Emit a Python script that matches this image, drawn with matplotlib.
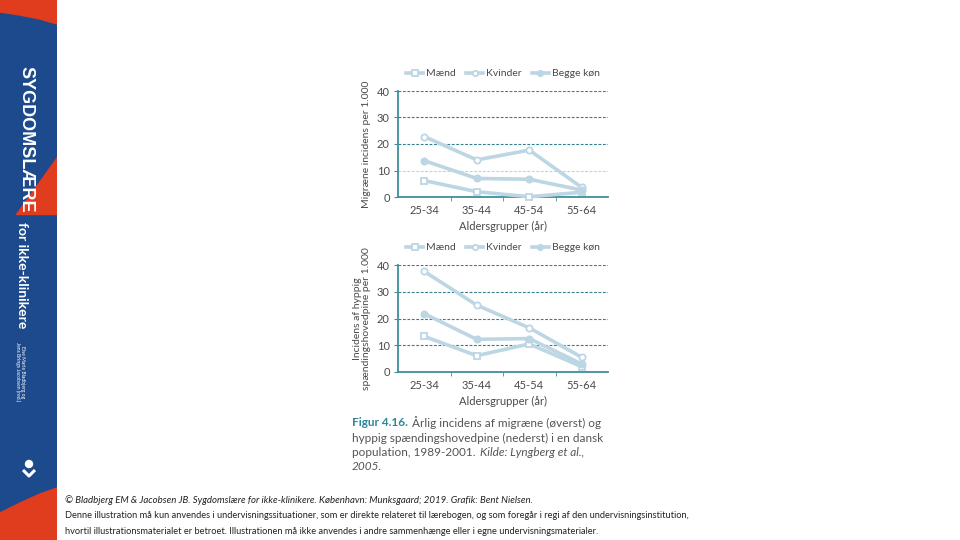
import matplotlib
matplotlib.use("Agg")
import matplotlib.pyplot as plt
from matplotlib.patches import Polygon, Circle

plt.rcParams['font.family'] = ['Lato', 'DejaVu Sans']

# data
ages = ["25-34", "35-44", "45-54", "55-64"]
series = ["Mænd", "Kvinder", "Begge køn"]

migr_maend = [6.2, 2.0, 0.1, 1.8]
migr_kvinder = [22.8, 14.0, 17.7, 3.6]
migr_begge = [13.7, 7.0, 6.7, 2.6]

spaend_maend = [13.3, 6.1, 10.5, 2.0]
spaend_kvinder = [37.6, 25.0, 16.5, 5.5]
spaend_begge = [21.8, 12.2, 12.5, 3.0]

line_col = "#bcd6e4"
axis_col = "#3f8e9c"
text_col = "#4a4a4a"

W, H = 960, 540
fig = plt.figure(figsize=(9.6, 5.4), dpi=100)
fig.patch.set_facecolor("white")


def px(x, y, w, h):
    return [x / W, 1 - (y + h) / H, w / W, h / H]


def draw_chart(ax, vals, ylabel, faint10=False):
    x = range(len(ages))
    styles = [("s", "white"), ("o", "white"), ("o", line_col)]
    for (m, fc), v, name in zip(styles, vals, series):
        ax.plot(x, v, color=line_col, lw=2.6, marker=m, ms=4.5,
                mfc=fc, mec=line_col, mew=1.3, label=name, clip_on=False,
                zorder=3)
    ax.set_xlim(-0.5, 3.5)
    ax.set_ylim(0, 40)
    ax.set_yticks([0, 10, 20, 30, 40])
    ax.set_xticks(list(x))
    ax.set_xticklabels(ages)
    ax.set_xticks([0.5, 1.5, 2.5], minor=True)
    ax.tick_params(axis="x", which="major", length=0, pad=6, labelsize=8,
                   labelcolor=text_col)
    ax.tick_params(axis="x", which="minor", length=3, color=axis_col,
                   direction="out")
    ax.tick_params(axis="y", length=3, color=axis_col, labelsize=8,
                   labelcolor=text_col, pad=3)
    for s in ["top", "right"]:
        ax.spines[s].set_visible(False)
    for s in ["left", "bottom"]:
        ax.spines[s].set_color(axis_col)
        ax.spines[s].set_linewidth(1.3)
    for yv in [10, 20, 30, 40]:
        c = "#b5d6dc" if (faint10 and yv == 10) else "#2f7f8e"
        ax.axhline(yv, color=c, lw=0.8, ls=(0, (2.5, 1.5)), zorder=1)
    ax.set_xlabel("Aldersgrupper (år)", fontsize=8, color=text_col, labelpad=3)
    ax.set_ylabel(ylabel, fontsize=7.5, color=text_col, labelpad=4,
                  linespacing=0.95)
    ax.legend(loc="lower center", bbox_to_anchor=(0.5, 1.03), ncol=3,
              frameon=False, fontsize=7.5, handlelength=1.6, columnspacing=1.0,
              handletextpad=0.3, labelcolor=text_col, markerscale=0.85)


ax1 = fig.add_axes(px(398, 91, 210, 106))
draw_chart(ax1, [migr_maend, migr_kvinder, migr_begge],
           "Migræne incidens per 1.000", faint10=True)

ax2 = fig.add_axes(px(398, 265, 210, 107))
draw_chart(ax2, [spaend_maend, spaend_kvinder, spaend_begge],
           "Incidens af hyppig\nspændingshovedpine per 1.000")

# caption
cap_x = 352 / W
t = fig.text(cap_x, 1 - 423 / H, "Figur 4.16.", fontsize=8.5, weight="bold",
             color="#2b8797", va="center")
fig.canvas.draw()
bb = t.get_window_extent()
fig.text(bb.x1 / W + 4 / W, 1 - 423 / H,
         "Årlig incidens af migræne (øverst) og", fontsize=8.5,
         color="#555555", va="center")
fig.text(cap_x, 1 - 438 / H, "hyppig spændingshovedpine (nederst) i en dansk",
         fontsize=8.5, color="#555555", va="center")
t3 = fig.text(cap_x, 1 - 452 / H, "population, 1989-2001. ", fontsize=8.5,
              color="#555555", va="center")
fig.canvas.draw()
bb3 = t3.get_window_extent()
fig.text(bb3.x1 / W + 2 / W, 1 - 452 / H, "Kilde: Lyngberg et al.,",
         fontsize=8.5, color="#555555", va="center", style="italic")
fig.text(cap_x, 1 - 466 / H, "2005.", fontsize=8.5, color="#555555",
         va="center", style="italic")

# footer
fig.text(65 / W, 1 - 500 / H,
         "© Bladbjerg EM & Jacobsen JB. Sygdomslære for ikke-klinikere. "
         "København: Munksgaard; 2019. Grafik: Bent Nielsen.",
         fontsize=6.9, style="italic", color="#222222", va="center")
fig.text(65 / W, 1 - 516 / H,
         "Denne illustration må kun anvendes i undervisningssituationer, som er "
         "direkte relateret til lærebogen, og som foregår i regi af den "
         "undervisningsinstitution,",
         fontsize=6.7, color="#222222", va="center")
fig.text(65 / W, 1 - 531 / H,
         "hvortil illustrationsmaterialet er betroet. Illustrationen må ikke "
         "anvendes i andre sammenhænge eller i egne undervisningsmaterialer.",
         fontsize=6.7, color="#222222", va="center")

# book spine sidebar
sb = fig.add_axes([0, 0, 57 / W, 1])
sb.set_xlim(0, 57)
sb.set_ylim(540, 0)
sb.axis("off")
blue = "#1d4a8c"
red = "#e03c1e"
sb.add_patch(Polygon([(0, 0), (57, 0), (57, 540), (0, 540)], color=blue))
sb.add_patch(Polygon([(0, 0), (57, 0), (57, 24), (40, 19), (20, 15), (0, 12)],
                     color=red))
sb.add_patch(Polygon([(57, 157), (57, 214), (16, 214)], color=red))
sb.add_patch(Polygon([(57, 488), (40, 494), (20, 503), (0, 513), (0, 540),
                      (57, 540)], color=red))
sb.text(26, 139, "SYGDOMSLÆRE", rotation=-90, color="white", fontsize=13,
        weight="bold", ha="center", va="center", family="Liberation Sans")
sb.text(22, 275, "for ikke-klinikere", rotation=-90, color="white",
        fontsize=10, weight="bold", ha="center", va="center")
sb.text(20, 372, "Else Marie Bladbjerg og\nJens Brings Jacobsen (red.)",
        rotation=-90, color="white", fontsize=3.6, ha="center", va="center",
        linespacing=1.1)
sb.add_patch(Circle((29, 464), 3.5, color="white"))
sb.plot([23, 29, 35], [470, 476, 470], color="white", lw=2.2,
        solid_capstyle="butt")

fig.savefig("out.png", dpi=100)
